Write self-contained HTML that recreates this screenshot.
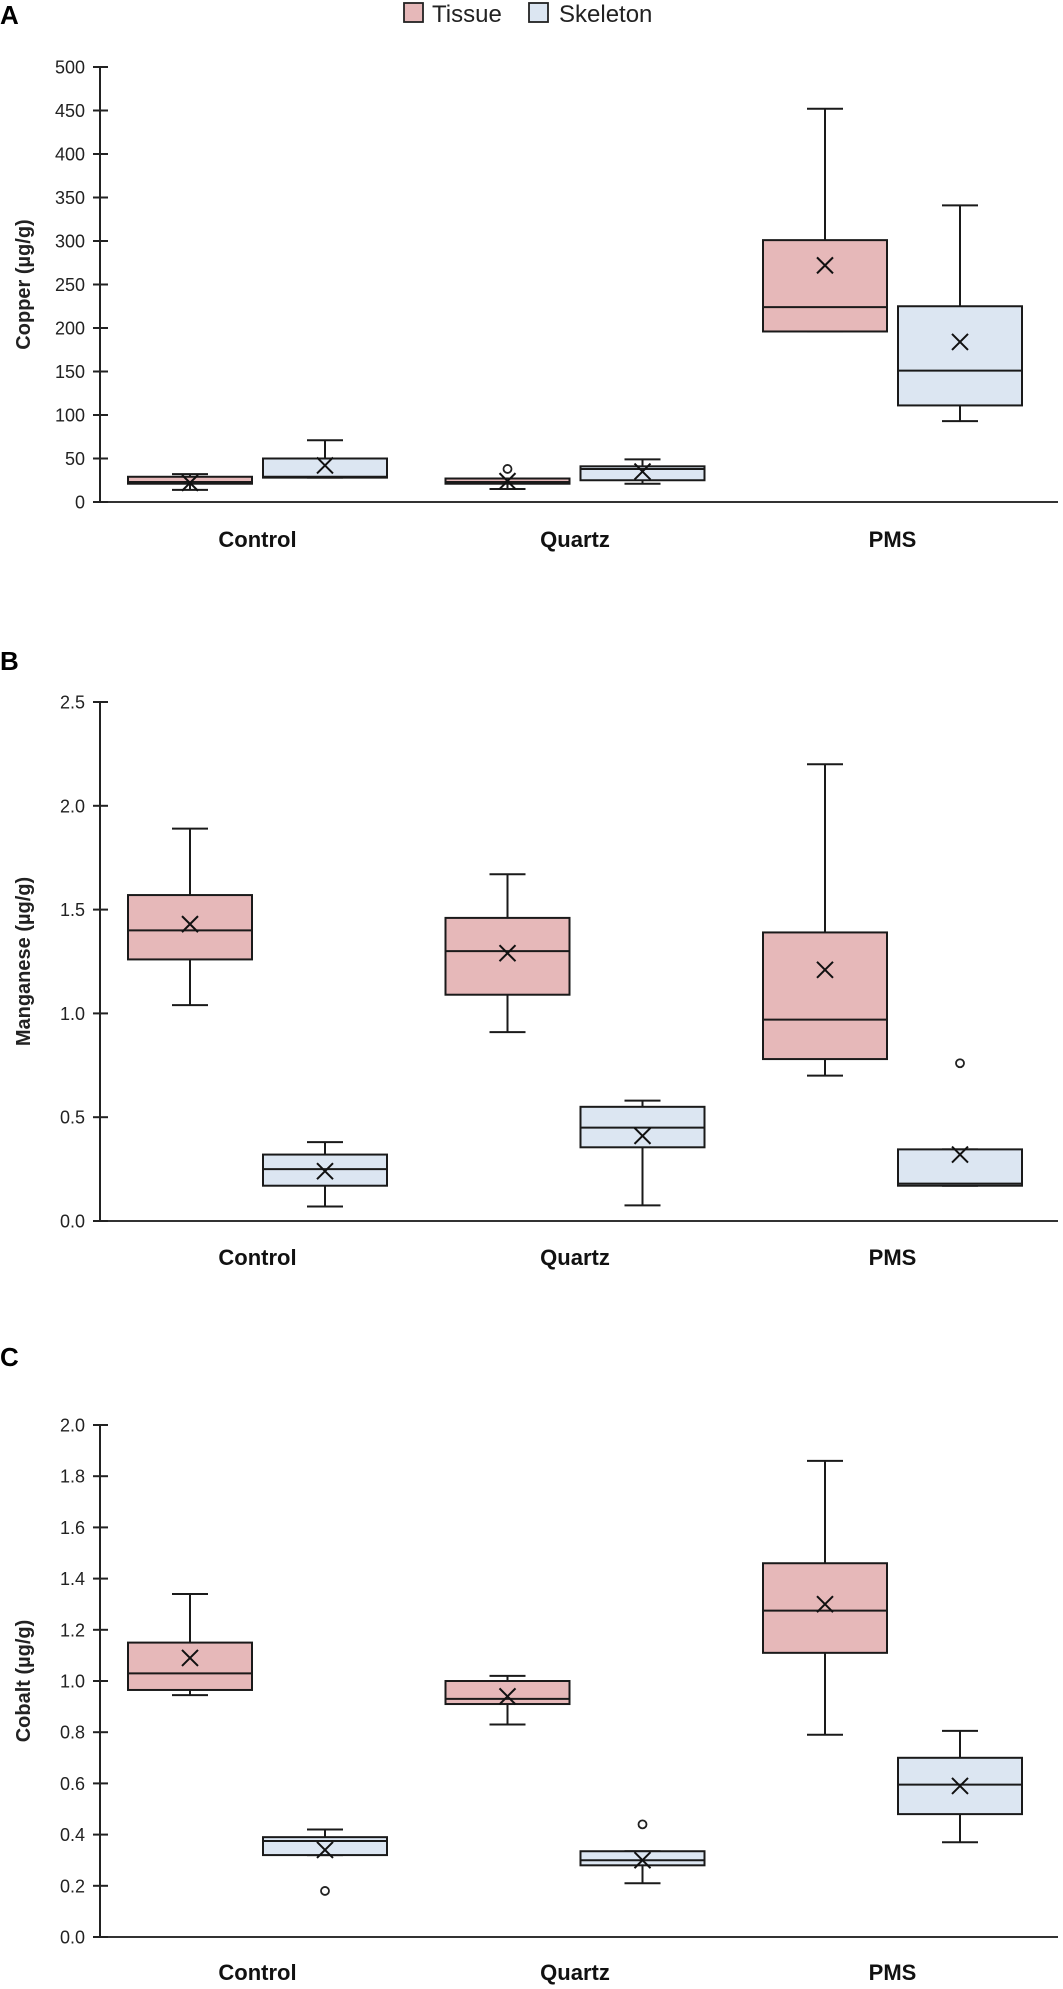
<!DOCTYPE html>
<html><head><meta charset="utf-8">
<style>
html,body{margin:0;padding:0;background:#fff;}
svg{display:block;font-family:"Liberation Sans",sans-serif;}
</style></head>
<body>
<svg id="chart" width="1063" height="1989" viewBox="0 0 1063 1989" xmlns="http://www.w3.org/2000/svg">
  <g>
    <rect x="404" y="3" width="19" height="19" fill="#e6b8b9" stroke="#222" stroke-width="1.8"/>
    <text x="432" y="22" font-size="24" fill="#222">Tissue</text>
    <rect x="529" y="3" width="19" height="19" fill="#dce6f2" stroke="#222" stroke-width="1.8"/>
    <text x="559" y="22" font-size="24" fill="#222">Skeleton</text>
  </g>
  <text x="0" y="24" font-size="26" font-weight="bold">A</text>
  <text x="0" y="670" font-size="26" font-weight="bold">B</text>
  <text x="0" y="1366" font-size="26" font-weight="bold">C</text>
</svg>
<script>
// ---- data ----
const categories = ["Control", "Quartz", "PMS"];
// [min, q1, median, q3, max]
const copperTissue   = [[14,21,23,29,32],[15,21,23,27,27],[196,196,224,301,452]];
const copperSkeleton = [[28,28,29,50,71],[21,25,38,41,49],[93,111,151,225,341]];
const copperTissueMean = [22,24,272];
const copperSkeletonMean = [42,35,184];
const copperTissueOutliers = [[],[38],[]];
const copperSkeletonOutliers = [[],[],[]];
const copperTicks = ["0","50","100","150","200","250","300","350","400","450","500"];

const mnTissue   = [[1.04,1.26,1.40,1.57,1.89],[0.91,1.09,1.30,1.46,1.67],[0.70,0.78,0.97,1.39,2.20]];
const mnSkeleton = [[0.07,0.17,0.25,0.32,0.38],[0.075,0.355,0.45,0.55,0.58],[0.17,0.17,0.18,0.345,0.345]];
const mnTissueMean = [1.43,1.29,1.21];
const mnSkeletonMean = [0.24,0.41,0.32];
const mnTissueOutliers = [[],[],[]];
const mnSkeletonOutliers = [[],[],[0.76]];
const mnTicks = ["0.0","0.5","1.0","1.5","2.0","2.5"];

const coTissue   = [[0.945,0.965,1.03,1.15,1.34],[0.83,0.91,0.93,1.00,1.02],[0.79,1.11,1.275,1.46,1.86]];
const coSkeleton = [[0.32,0.32,0.375,0.39,0.42],[0.21,0.28,0.30,0.335,0.335],[0.37,0.48,0.595,0.70,0.805]];
const coTissueMean = [1.09,0.94,1.30];
const coSkeletonMean = [0.34,0.30,0.59];
const coTissueOutliers = [[],[],[]];
const coSkeletonOutliers = [[0.18],[0.44],[]];
const coTicks = ["0.0","0.2","0.4","0.6","0.8","1.0","1.2","1.4","1.6","1.8","2.0"];

// ---- rendering ----
const NS = "http://www.w3.org/2000/svg";
const svg = document.getElementById("chart");
const X0 = 100, X1 = 1058;
const groupStart = 190, groupStep = 317.5, pairGap = 135, boxW = 124, capW = 36;
function mk(tag, attrs, parent) {
  const e = document.createElementNS(NS, tag);
  for (const k in attrs) e.setAttribute(k, attrs[k]);
  (parent || svg).appendChild(e);
  return e;
}
function drawPanel(p) {
  const g = mk("g", {});
  
  
  const yScale = v => p.y0 - (v - p.vmin) / (p.vmax - p.vmin) * (p.y0 - p.yTop);
  const xTissue = i => groupStart + i * groupStep;
  const xSkel = i => groupStart + i * groupStep + pairGap;
  const ya = mk("line", {x1:X0, x2:X0, y1:yScale(p.vmax), y2:p.y0, stroke:"#222", "stroke-width":2}, g);
  
  
  const xa = mk("line", {x1:X0, x2:X1, y1:p.y0, y2:p.y0, stroke:"#333", "stroke-width":2}, g);
  
  
  p.ticks.forEach(t => {
    const y = yScale(parseFloat(t));
    const tk = mk("line", {x1:X0-7, x2:X0+8, y1:y, y2:y, stroke:"#222", "stroke-width":2}, g);
    
    
    const tl = mk("text", {x:X0-15, y:y+6.5, "text-anchor":"end", "font-size":18, fill:"#222"}, g);
    tl.textContent = t;
    
    
  });
  const cy = (yScale(p.vmax) + p.y0) / 2;
  const title = mk("text", {x:0, y:0, transform:"translate(30," + cy + ") rotate(-90)", "text-anchor":"middle", "font-size":20, "font-weight":"bold", fill:"#222"}, g);
  title.textContent = p.title;
  
  
  categories.forEach((c, i) => {
    const t = mk("text", {x:(xTissue(i) + xSkel(i)) / 2, y:p.labelY, "text-anchor":"middle", "font-size":22, "font-weight":"bold", fill:"#111"}, g);
    t.textContent = c;
    
    
  });
  const series = [
    {stats:p.tissue, mean:p.tMean, out:p.tOut, fill:"#e6b8b9", xf:xTissue, name:"tissue"},
    {stats:p.skel, mean:p.sMean, out:p.sOut, fill:"#dce6f2", xf:xSkel, name:"skeleton"}
  ];
  series.forEach(s => {
    s.stats.forEach((st, i) => {
      const cx = s.xf(i);
      const bg = mk("g", {}, g);
      
      
      const [mn, q1, md, q3, mx] = st;
      const sw = {stroke:"#1a1a1a", "stroke-width":2};
      mk("line", Object.assign({x1:cx, x2:cx, y1:yScale(mx), y2:yScale(q3)}, sw), bg);
      mk("line", Object.assign({x1:cx, x2:cx, y1:yScale(q1), y2:yScale(mn)}, sw), bg);
      mk("line", Object.assign({x1:cx-capW/2, x2:cx+capW/2, y1:yScale(mx), y2:yScale(mx)}, sw), bg);
      mk("line", Object.assign({x1:cx-capW/2, x2:cx+capW/2, y1:yScale(mn), y2:yScale(mn)}, sw), bg);
      mk("rect", Object.assign({x:cx-boxW/2, y:yScale(q3), width:boxW, height:Math.max(1, yScale(q1)-yScale(q3)), fill:s.fill}, sw), bg);
      mk("line", Object.assign({x1:cx-boxW/2, x2:cx+boxW/2, y1:yScale(md), y2:yScale(md)}, sw), bg);
      const my = yScale(s.mean[i]);
      mk("path", {d:`M${cx-8},${my-8}L${cx+8},${my+8}M${cx+8},${my-8}L${cx-8},${my+8}`, stroke:"#111", "stroke-width":2, fill:"none"}, bg);
      s.out[i].forEach(o => {
        const c = mk("circle", {cx:cx, cy:yScale(o), r:4, fill:"#fff", stroke:"#222", "stroke-width":1.8}, bg);
        
        
      });
    });
  });
}
drawPanel({key:"copper", title:"Copper (µg/g)", vmin:0, vmax:500, y0:502, yTop:67, labelY:547, ticks:copperTicks,
  tissue:copperTissue, skel:copperSkeleton, tMean:copperTissueMean, sMean:copperSkeletonMean, tOut:copperTissueOutliers, sOut:copperSkeletonOutliers});
drawPanel({key:"manganese", title:"Manganese (µg/g)", vmin:0, vmax:2.5, y0:1221, yTop:702, labelY:1265, ticks:mnTicks,
  tissue:mnTissue, skel:mnSkeleton, tMean:mnTissueMean, sMean:mnSkeletonMean, tOut:mnTissueOutliers, sOut:mnSkeletonOutliers});
drawPanel({key:"cobalt", title:"Cobalt (µg/g)", vmin:0, vmax:2.0, y0:1937, yTop:1425, labelY:1980, ticks:coTicks,
  tissue:coTissue, skel:coSkeleton, tMean:coTissueMean, sMean:coSkeletonMean, tOut:coTissueOutliers, sOut:coSkeletonOutliers});
</script>
</body></html>
